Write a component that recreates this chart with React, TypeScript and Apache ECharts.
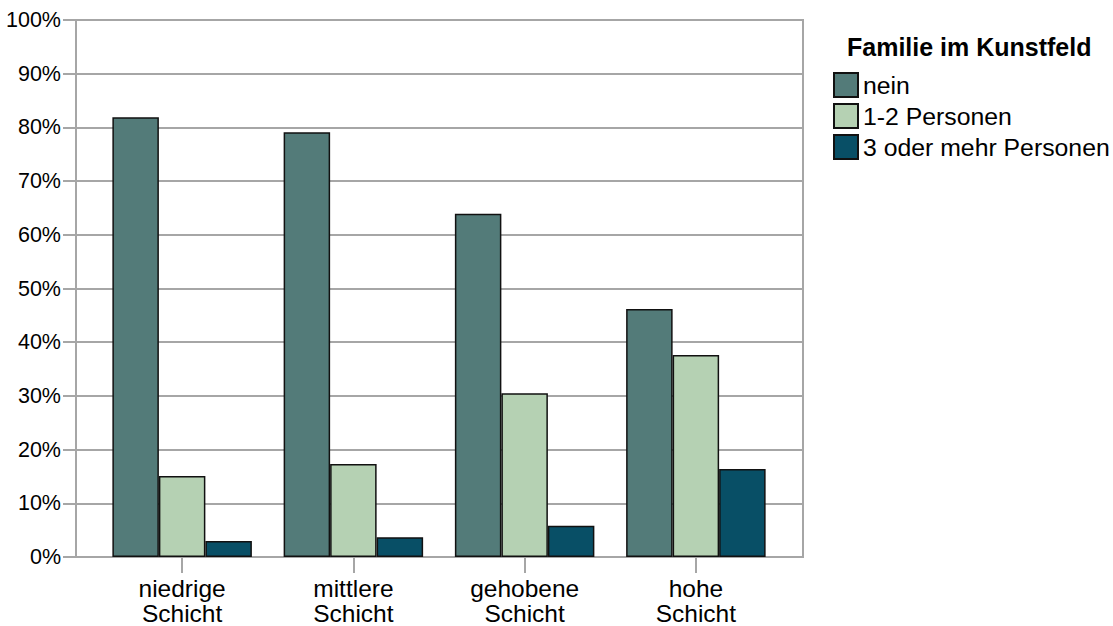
import React, { useEffect, useRef } from "react";
import * as echarts from "echarts";

const categories = ["niedrige\nSchicht", "mittlere\nSchicht", "gehobene\nSchicht", "hohe\nSchicht"];
const seriesNames = ["nein", "1-2 Personen", "3 oder mehr Personen"];
const neinValues = [81.9, 79.1, 63.9, 46.2];
const einsZweiValues = [15.1, 17.3, 30.5, 37.6];
const dreiMehrValues = [3.0, 3.7, 5.8, 16.4];
const colors = ["#537b79", "#b5d1b3", "#084f66"];
const legendTitle = "Familie im Kunstfeld";

const FONT = "'Liberation Sans', Arial, sans-serif";
const GRID_COLOR = "#a6a6a6";

export default function App() {
  const ref = useRef<HTMLDivElement>(null);
  useEffect(() => {
    if (!ref.current) return;
    const chart = echarts.init(ref.current, null, { renderer: "svg" });
    const values = [neinValues, einsZweiValues, dreiMehrValues];
    chart.setOption({
      animation: false,
      backgroundColor: "#ffffff",
      textStyle: { fontFamily: FONT },
      title: {
        text: legendTitle,
        left: 847,
        top: 34,
        padding: 0,
        textStyle: { fontFamily: FONT, fontSize: 25, fontWeight: "bold", color: "#000" },
      },
      legend: {
        orient: "vertical",
        left: 833,
        top: 72,
        padding: 0,
        itemWidth: 24,
        itemHeight: 24,
        itemGap: 5,
        icon: "rect",
        data: seriesNames,
        textStyle: { fontFamily: FONT, fontSize: 24.8, color: "#000" },
      },
      grid: [
        {
          left: 76,
          top: 20,
          width: 727,
          height: 537,
          show: true,
          borderColor: GRID_COLOR,
          borderWidth: 2,
          backgroundColor: "transparent",
        },
        { left: 96.5, top: 20, width: 685, height: 537 },
      ],
      xAxis: [
        { type: "value", gridIndex: 0, show: false, min: 0, max: 1 },
        {
          type: "category",
          gridIndex: 1,
          data: categories,
          boundaryGap: true,
          axisLine: { show: false },
          axisTick: {
            show: true,
            alignWithLabel: true,
            length: 16,
            lineStyle: { color: GRID_COLOR, width: 2 },
          },
          axisLabel: {
            fontFamily: FONT,
            fontSize: 24.5,
            lineHeight: 25,
            color: "#000",
            margin: 19,
          },
        },
      ],
      yAxis: [
        {
          type: "value",
          gridIndex: 0,
          min: 0,
          max: 100,
          interval: 10,
          axisLine: { show: true, lineStyle: { color: GRID_COLOR, width: 2 } },
          axisTick: { show: true, length: 13, lineStyle: { color: GRID_COLOR, width: 2 } },
          axisLabel: {
            formatter: "{value}%",
            fontFamily: FONT,
            fontSize: 21.5,
            color: "#000",
            margin: 15,
          },
          splitLine: { show: true, lineStyle: { color: GRID_COLOR, width: 2 } },
        },
        { type: "value", gridIndex: 1, min: 0, max: 100, show: false, splitLine: { show: false } },
      ],
      series: seriesNames.map((name, i) => ({
        name,
        type: "bar",
        xAxisIndex: 1,
        yAxisIndex: 1,
        data: values[i],
        barWidth: 46.5,
        barGap: "0%",
        itemStyle: { color: colors[i], borderColor: "#111", borderWidth: 1.5 },
      })),
    });
    return () => chart.dispose();
  }, []);
  return (
    <div
      ref={ref}
      style={{ position: "fixed", left: 0, top: 0, width: 1113, height: 626 }}
    />
  );
}
